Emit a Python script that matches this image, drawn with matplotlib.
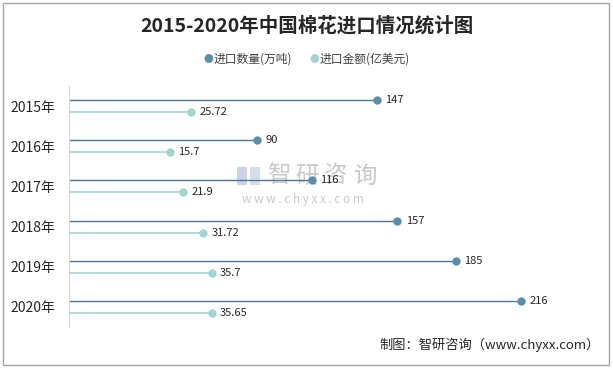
import matplotlib
matplotlib.use("Agg")
import matplotlib.pyplot as plt
from matplotlib.patches import Rectangle

plt.rcParams['font.family'] = ['Noto Sans CJK SC', 'DejaVu Sans']

years = ["2015年", "2016年", "2017年", "2018年", "2019年", "2020年"]
quantity = [147, 90, 116, 157, 185, 216]          # 进口数量(万吨)
amount = [25.72, 15.7, 21.9, 31.72, 35.7, 35.65]  # 进口金额(亿美元)
qty_labels = ["147", "90", "116", "157", "185", "216"]
amt_labels = ["25.72", "15.7", "21.9", "31.72", "35.7", "35.65"]

c_qty_line = "#4F7599"
c_qty_dot = "#5B8EAB"
c_amt = "#9FD6D5"

W, H = 613, 368
fig = plt.figure(figsize=(6.13, 3.68), dpi=100)
fig.patches.append(Rectangle((0.005, 0.008), 0.989, 0.984, transform=fig.transFigure,
                             fill=False, edgecolor="#A6A6A6", linewidth=1))

ax = fig.add_axes([0.1126, 0.1114, 0.819, 0.6549])
ax2 = ax.twiny()
ax.patch.set_visible(False)
ax2.patch.set_visible(False)

ypos = list(range(len(years)))
off = 0.15

# quantity on primary axis
ax.set_xlim(0, 240)
ax.set_ylim(len(years) - 0.5, -0.5)
for i, v in enumerate(quantity):
    ax.plot([0, v], [i - off, i - off], color=c_qty_line, lw=1, solid_capstyle="butt")
    ax.plot(v, i - off, "o", color=c_qty_dot, ms=6, mec="none")
    ax.annotate(qty_labels[i], (v, i - off), xytext=(6, 0), textcoords="offset points",
                va="center", ha="left", fontsize=8, color="#262626")

# amount on secondary axis (shifted scale)
shift = 32.5
ax2.set_xlim(-shift, 240 - shift)
for i, v in enumerate(amount):
    ax2.plot([-shift, v], [i + off, i + off], color=c_amt, lw=1.2, solid_capstyle="butt")
    ax2.plot(v, i + off, "o", color=c_amt, ms=6, mec="none")
    ax2.annotate(amt_labels[i], (v, i + off), xytext=(6, 0), textcoords="offset points",
                 va="center", ha="left", fontsize=8, color="#262626")
ax2.set_ylim(len(years) - 0.5, -0.5)

for a in (ax, ax2):
    for s in ("top", "right", "bottom"):
        a.spines[s].set_visible(False)
    a.tick_params(length=0)
ax2.spines["left"].set_visible(False)
ax.spines["left"].set_color("#D9D9D9")
ax.set_xticks([])
ax2.set_xticks([])
ax.set_yticks(ypos)
ax.set_yticklabels(years, fontsize=10, color="#262626")
ax.tick_params(axis="y", pad=10)

# watermark (behind the chart)
wm = "#C9C9C9"
fig.patches.append(Rectangle((237 / W, 1 - 185 / H), 10 / W, 18 / H, transform=fig.transFigure,
                             facecolor="#C9D5E4", edgecolor="none", zorder=-2))
fig.patches.append(Rectangle((250 / W, 1 - 185 / H), 10 / W, 18 / H, transform=fig.transFigure,
                             facecolor="#D6DEE9", edgecolor="none", zorder=-2))
for k, ch in enumerate("智研咨询"):
    fig.text((279 + 28.5 * k) / W, 1 - 176 / H, ch, fontsize=17, color=wm,
             ha="center", va="center", zorder=-1)
fig.text(303 / W, 1 - 199 / H, "w w w . c h y x x . c o m", fontsize=8.5, color=wm,
         ha="center", va="center", zorder=-1)

fig.text(0.5, 0.93, "2015-2020年中国棉花进口情况统计图", fontsize=14, fontweight="bold",
         color="#262626", ha="center", va="center")

# legend
fig.text(208 / W, 0.84, "●", fontsize=7, color=c_qty_dot, ha="center", va="center")
fig.text(214 / W, 0.84, "进口数量(万吨)", fontsize=8.5, color="#404040", ha="left", va="center")
fig.text(314 / W, 0.84, "●", fontsize=7, color=c_amt, ha="center", va="center")
fig.text(320 / W, 0.84, "进口金额(亿美元)", fontsize=8.5, color="#404040", ha="left", va="center")

fig.text(0.978, 0.062, "制图：智研咨询（www.chyxx.com）", fontsize=9.5, color="#262626",
         ha="right", va="center")

fig.savefig("out.png", dpi=100)
